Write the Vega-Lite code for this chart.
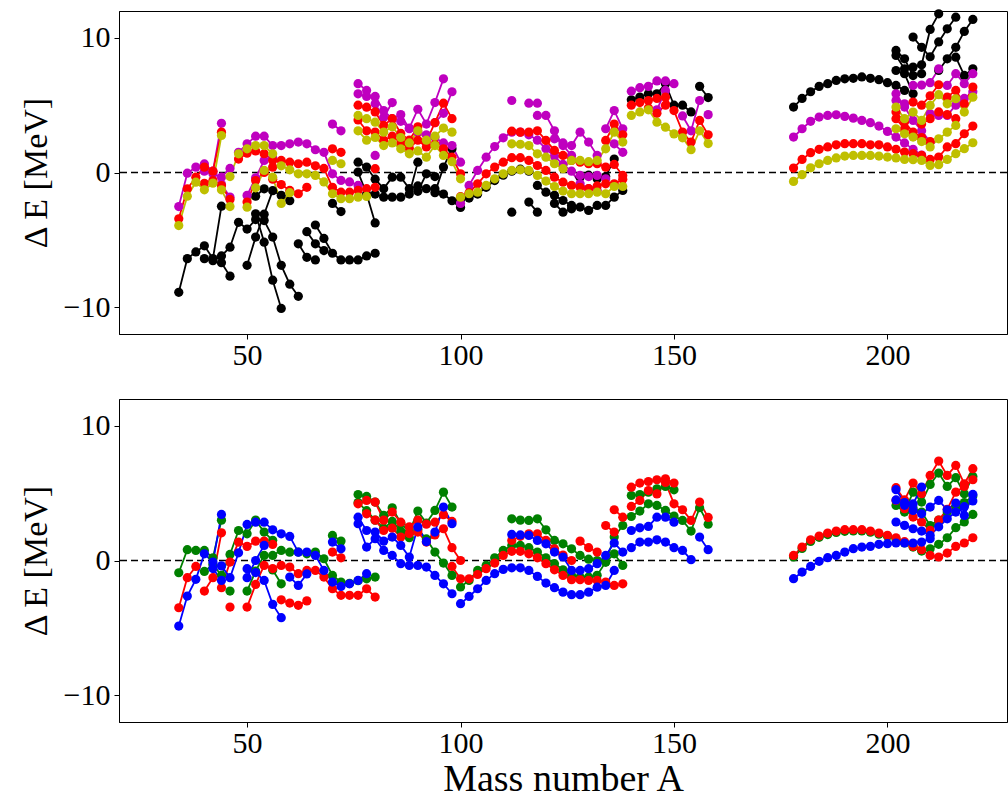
{
"$schema": "https://vega.github.io/schema/vega-lite/v6.json",
"background": "white",
"padding": {"left": 18, "top": 8, "right": 2, "bottom": 0},
"spacing": 65,
"bounds": "flush",
"config": {
  "view": {"stroke": "black", "strokeWidth": 1},
  "font": "Liberation Serif",
  "axis": {"grid": false, "domainColor": "black", "tickColor": "black", "labelColor": "black", "titleColor": "black", "labelFont": "Liberation Serif", "titleFont": "Liberation Serif", "labelFontSize": 30, "titleFontSize": 34, "titleFontWeight": "normal", "tickSize": 5, "labelPadding": 4, "titlePadding": 10},
  "axisX": {"labelPadding": 1}
},
"datasets": {
"t": [
{"c":"k","g":"k1","A":34,"E":-8.9},{"c":"k","g":"k1","A":36,"E":-6.4},{"c":"k","g":"k1","A":38,"E":-5.9},{"c":"k","g":"k1","A":40,"E":-5.45},{"c":"k","g":"k1","A":42,"E":-6.4},{"c":"k","g":"k1","A":44,"E":-2.5},
{"c":"k","g":"k2","A":40,"E":-6.4},{"c":"k","g":"k2","A":42,"E":-6.55},{"c":"k","g":"k2","A":44,"E":-6.2},{"c":"k","g":"k2","A":46,"E":-5.55},{"c":"k","g":"k2","A":48,"E":-3.7},{"c":"k","g":"k2","A":50,"E":-4.2},{"c":"k","g":"k2","A":52,"E":-3.5},
{"c":"k","g":"k3","A":44,"E":-6.7},{"c":"k","g":"k3","A":46,"E":-7.7},
{"c":"k","g":"k4","A":50,"E":-6.9},{"c":"k","g":"k4","A":52,"E":-4.8},{"c":"k","g":"k4","A":54,"E":-3.1},{"c":"k","g":"k4","A":56,"E":-1.35},{"c":"k","g":"k4","A":58,"E":-1.7},{"c":"k","g":"k4","A":60,"E":-2.1},
{"c":"k","g":"k5","A":52,"E":-3.07},{"c":"k","g":"k5","A":54,"E":-5.18},{"c":"k","g":"k5","A":56,"E":-8.0},{"c":"k","g":"k5","A":58,"E":-10.1},
{"c":"k","g":"k6","A":54,"E":-3.57},{"c":"k","g":"k6","A":56,"E":-4.8},{"c":"k","g":"k6","A":58,"E":-6.9},{"c":"k","g":"k6","A":60,"E":-8.3},{"c":"k","g":"k6","A":62,"E":-9.2},
{"c":"k","g":"k7","A":52,"E":-1.76},{"c":"k","g":"k7","A":54,"E":-1.21},
{"c":"k","g":"k8","A":62,"E":-5.3},{"c":"k","g":"k8","A":64,"E":-6.3},{"c":"k","g":"k8","A":66,"E":-6.5},
{"c":"k","g":"k9","A":64,"E":-4.4},{"c":"k","g":"k9","A":66,"E":-5.3},{"c":"k","g":"k9","A":68,"E":-5.8},
{"c":"k","g":"k10","A":66,"E":-3.9},{"c":"k","g":"k10","A":68,"E":-4.9},{"c":"k","g":"k10","A":70,"E":-6.0},{"c":"k","g":"k10","A":72,"E":-6.5},{"c":"k","g":"k10","A":74,"E":-6.5},{"c":"k","g":"k10","A":76,"E":-6.5},{"c":"k","g":"k10","A":78,"E":-6.2},{"c":"k","g":"k10","A":80,"E":-6.0},
{"c":"k","g":"k11","A":70,"E":-2.3},{"c":"k","g":"k11","A":72,"E":-2.9},
{"c":"k","g":"k12","A":76,"E":0.77},{"c":"k","g":"k12","A":78,"E":0.4},{"c":"k","g":"k12","A":80,"E":-0.5},{"c":"k","g":"k12","A":82,"E":-1.2},{"c":"k","g":"k12","A":84,"E":-0.35},{"c":"k","g":"k12","A":86,"E":-0.35},{"c":"k","g":"k12","A":88,"E":-1.2},{"c":"k","g":"k12","A":90,"E":-1.0},{"c":"k","g":"k12","A":92,"E":-1.2},{"c":"k","g":"k12","A":94,"E":-1.2},{"c":"k","g":"k12","A":96,"E":-1.6},{"c":"k","g":"k12","A":98,"E":-2.1},{"c":"k","g":"k12","A":100,"E":-2.6},
{"c":"k","g":"k13","A":76,"E":0.03},{"c":"k","g":"k13","A":78,"E":-1.6},{"c":"k","g":"k13","A":80,"E":-3.75},
{"c":"k","g":"k14","A":80,"E":-1.6},{"c":"k","g":"k14","A":82,"E":-1.83},{"c":"k","g":"k14","A":84,"E":-1.83},{"c":"k","g":"k14","A":86,"E":-1.83},{"c":"k","g":"k14","A":88,"E":-1.6},{"c":"k","g":"k14","A":90,"E":0.77},
{"c":"k","g":"k15","A":90,"E":-1.4},{"c":"k","g":"k15","A":92,"E":-0.1},{"c":"k","g":"k15","A":94,"E":-0.3},
{"c":"k","g":"k16","A":94,"E":-1.5},{"c":"k","g":"k16","A":96,"E":0.4},{"c":"k","g":"k16","A":98,"E":1.76},
{"c":"k","g":"k17","A":100,"E":-2.0},{"c":"k","g":"k17","A":102,"E":-1.9},{"c":"k","g":"k17","A":104,"E":-1.6},{"c":"k","g":"k17","A":106,"E":-1.1},{"c":"k","g":"k17","A":108,"E":-0.6},{"c":"k","g":"k17","A":110,"E":-0.2},{"c":"k","g":"k17","A":112,"E":0.1},{"c":"k","g":"k17","A":114,"E":0.25},{"c":"k","g":"k17","A":116,"E":0.1},
{"c":"k","g":"k18","A":112,"E":-2.95},
{"c":"k","g":"k19","A":116,"E":-2.2},{"c":"k","g":"k19","A":118,"E":-2.95},
{"c":"k","g":"k20","A":118,"E":-0.96},{"c":"k","g":"k20","A":120,"E":-1.46},{"c":"k","g":"k20","A":122,"E":-1.7},{"c":"k","g":"k20","A":124,"E":-2.08},{"c":"k","g":"k20","A":126,"E":-2.45},{"c":"k","g":"k20","A":128,"E":-2.57},{"c":"k","g":"k20","A":130,"E":-2.82},{"c":"k","g":"k20","A":132,"E":-2.45},{"c":"k","g":"k20","A":134,"E":-2.45},{"c":"k","g":"k20","A":136,"E":-1.83},{"c":"k","g":"k20","A":138,"E":-1.33},
{"c":"k","g":"k21","A":122,"E":-2.3},{"c":"k","g":"k21","A":124,"E":-2.95},{"c":"k","g":"k21","A":126,"E":-2.7},
{"c":"k","g":"k22","A":128,"E":-0.35},{"c":"k","g":"k22","A":130,"E":-0.2},{"c":"k","g":"k22","A":132,"E":-0.47},{"c":"k","g":"k22","A":134,"E":-0.3},{"c":"k","g":"k22","A":136,"E":1.0},
{"c":"k","g":"k23","A":140,"E":5.4},{"c":"k","g":"k23","A":142,"E":5.6},{"c":"k","g":"k23","A":144,"E":5.85},{"c":"k","g":"k23","A":146,"E":5.85},{"c":"k","g":"k23","A":148,"E":6.6},{"c":"k","g":"k23","A":150,"E":5.0},{"c":"k","g":"k23","A":152,"E":5.0},{"c":"k","g":"k23","A":154,"E":4.5},
{"c":"k","g":"k24","A":156,"E":6.4},{"c":"k","g":"k24","A":158,"E":5.57},
{"c":"k","g":"k25","A":178,"E":4.86},{"c":"k","g":"k25","A":180,"E":5.5},{"c":"k","g":"k25","A":182,"E":6.0},{"c":"k","g":"k25","A":184,"E":6.4},{"c":"k","g":"k25","A":186,"E":6.6},{"c":"k","g":"k25","A":188,"E":6.84},{"c":"k","g":"k25","A":190,"E":6.96},{"c":"k","g":"k25","A":192,"E":7.0},{"c":"k","g":"k25","A":194,"E":7.1},{"c":"k","g":"k25","A":196,"E":7.0},{"c":"k","g":"k25","A":198,"E":6.9},{"c":"k","g":"k25","A":200,"E":6.67},{"c":"k","g":"k25","A":202,"E":6.47},{"c":"k","g":"k25","A":204,"E":6.1},
{"c":"k","g":"k26","A":202,"E":9.07},{"c":"k","g":"k26","A":204,"E":8.45},{"c":"k","g":"k26","A":206,"E":7.2},{"c":"k","g":"k26","A":208,"E":7.34},
{"c":"k","g":"k27","A":202,"E":8.7},{"c":"k","g":"k27","A":204,"E":7.7},{"c":"k","g":"k27","A":206,"E":7.83},{"c":"k","g":"k27","A":208,"E":8.0},{"c":"k","g":"k27","A":210,"E":10.63},{"c":"k","g":"k27","A":212,"E":11.79},
{"c":"k","g":"k28","A":206,"E":10.06},{"c":"k","g":"k28","A":208,"E":9.3},{"c":"k","g":"k28","A":210,"E":8.6},{"c":"k","g":"k28","A":212,"E":9.7},{"c":"k","g":"k28","A":214,"E":10.68},{"c":"k","g":"k28","A":216,"E":11.54},
{"c":"k","g":"k29","A":212,"E":7.58},{"c":"k","g":"k29","A":214,"E":8.45},{"c":"k","g":"k29","A":216,"E":9.3},{"c":"k","g":"k29","A":218,"E":10.48},{"c":"k","g":"k29","A":220,"E":11.37},
{"c":"k","g":"k30","A":216,"E":8.57},{"c":"k","g":"k30","A":218,"E":7.21},{"c":"k","g":"k30","A":220,"E":7.7},
{"c":"k","g":"k31","A":202,"E":7.58},{"c":"k","g":"k31","A":204,"E":7.34},{"c":"k","g":"k31","A":206,"E":5.85},
{"c":"m","g":"m1","A":34,"E":-2.53},{"c":"m","g":"m1","A":36,"E":-0.05},{"c":"m","g":"m1","A":38,"E":0.4},{"c":"m","g":"m1","A":40,"E":0.64},{"c":"m","g":"m1","A":42,"E":0.1},{"c":"m","g":"m1","A":44,"E":3.66},
{"c":"m","g":"m2","A":40,"E":0.1},{"c":"m","g":"m2","A":42,"E":-0.1},{"c":"m","g":"m2","A":44,"E":-0.35},{"c":"m","g":"m2","A":46,"E":0.3},
{"c":"m","g":"m3","A":44,"E":-0.9},{"c":"m","g":"m3","A":46,"E":-1.83},
{"c":"m","g":"m4","A":48,"E":1.5},{"c":"m","g":"m4","A":50,"E":2.13},{"c":"m","g":"m4","A":52,"E":2.7},{"c":"m","g":"m4","A":54,"E":2.7},{"c":"m","g":"m4","A":56,"E":2.0},
{"c":"m","g":"m5","A":58,"E":2.0},{"c":"m","g":"m5","A":60,"E":2.13},{"c":"m","g":"m5","A":62,"E":2.26},{"c":"m","g":"m5","A":64,"E":2.13},{"c":"m","g":"m5","A":66,"E":1.69},{"c":"m","g":"m5","A":68,"E":1.5},{"c":"m","g":"m5","A":70,"E":-0.1},{"c":"m","g":"m5","A":72,"E":-0.59},{"c":"m","g":"m5","A":74,"E":-0.7},{"c":"m","g":"m5","A":76,"E":-0.96},
{"c":"m","g":"m6","A":50,"E":-1.7},{"c":"m","g":"m6","A":52,"E":-0.4},{"c":"m","g":"m6","A":54,"E":0.9},{"c":"m","g":"m6","A":56,"E":1.1},
{"c":"m","g":"m7","A":70,"E":3.6},{"c":"m","g":"m7","A":72,"E":3.1},
{"c":"m","g":"m8","A":76,"E":6.6},{"c":"m","g":"m8","A":78,"E":6.1},{"c":"m","g":"m8","A":80,"E":5.1},{"c":"m","g":"m8","A":82,"E":4.1},{"c":"m","g":"m8","A":84,"E":5.2},
{"c":"m","g":"m9","A":76,"E":5.85},{"c":"m","g":"m9","A":78,"E":5.65},{"c":"m","g":"m9","A":80,"E":5.65},{"c":"m","g":"m9","A":82,"E":4.6},{"c":"m","g":"m9","A":84,"E":4.0},{"c":"m","g":"m9","A":86,"E":4.3},{"c":"m","g":"m9","A":88,"E":3.25},
{"c":"m","g":"m10","A":86,"E":3.8},{"c":"m","g":"m10","A":88,"E":3.3},{"c":"m","g":"m10","A":90,"E":4.7},{"c":"m","g":"m10","A":92,"E":3.6},{"c":"m","g":"m10","A":94,"E":5.2},{"c":"m","g":"m10","A":96,"E":6.96},
{"c":"m","g":"m11","A":94,"E":3.7},{"c":"m","g":"m11","A":96,"E":4.4},{"c":"m","g":"m11","A":98,"E":6.0},
{"c":"m","g":"m12","A":90,"E":3.0},{"c":"m","g":"m12","A":92,"E":2.8},{"c":"m","g":"m12","A":94,"E":2.6},{"c":"m","g":"m12","A":96,"E":2.2},{"c":"m","g":"m12","A":98,"E":2.0},{"c":"m","g":"m12","A":100,"E":0.77},
{"c":"m","g":"m13","A":80,"E":1.27},
{"c":"m","g":"m14","A":100,"E":-2.3},{"c":"m","g":"m14","A":102,"E":-0.96},{"c":"m","g":"m14","A":104,"E":0.15},{"c":"m","g":"m14","A":106,"E":1.14},{"c":"m","g":"m14","A":108,"E":1.93},{"c":"m","g":"m14","A":110,"E":2.58},{"c":"m","g":"m14","A":112,"E":3.0},{"c":"m","g":"m14","A":114,"E":3.0},{"c":"m","g":"m14","A":116,"E":2.8},{"c":"m","g":"m14","A":118,"E":2.4},{"c":"m","g":"m14","A":120,"E":1.76},{"c":"m","g":"m14","A":122,"E":1.2},{"c":"m","g":"m14","A":124,"E":0.6},{"c":"m","g":"m14","A":126,"E":0.1},{"c":"m","g":"m14","A":128,"E":-0.84},{"c":"m","g":"m14","A":130,"E":-1.2},{"c":"m","g":"m14","A":132,"E":-1.33},
{"c":"m","g":"m15","A":128,"E":-0.22},{"c":"m","g":"m15","A":130,"E":-0.3},{"c":"m","g":"m15","A":132,"E":-0.22},{"c":"m","g":"m15","A":134,"E":-0.47},
{"c":"m","g":"m16","A":112,"E":5.35},
{"c":"m","g":"m17","A":116,"E":5.15},{"c":"m","g":"m17","A":118,"E":5.15},
{"c":"m","g":"m18","A":118,"E":4.24},{"c":"m","g":"m18","A":120,"E":4.24},{"c":"m","g":"m18","A":122,"E":3.1},{"c":"m","g":"m18","A":124,"E":2.0},{"c":"m","g":"m18","A":126,"E":1.27},
{"c":"m","g":"m19","A":122,"E":2.5},{"c":"m","g":"m19","A":124,"E":2.2},{"c":"m","g":"m19","A":126,"E":2.0},{"c":"m","g":"m19","A":128,"E":3.0},{"c":"m","g":"m19","A":130,"E":2.26},{"c":"m","g":"m19","A":132,"E":1.27},
{"c":"m","g":"m20","A":134,"E":3.25},{"c":"m","g":"m20","A":136,"E":4.6},{"c":"m","g":"m20","A":138,"E":3.25},
{"c":"m","g":"m21","A":136,"E":2.13},{"c":"m","g":"m21","A":138,"E":1.5},
{"c":"m","g":"m22","A":140,"E":6.04},{"c":"m","g":"m22","A":142,"E":6.3},{"c":"m","g":"m22","A":144,"E":6.4},{"c":"m","g":"m22","A":146,"E":6.8},{"c":"m","g":"m22","A":148,"E":6.8},{"c":"m","g":"m22","A":150,"E":6.6},
{"c":"m","g":"m23","A":146,"E":4.66},{"c":"m","g":"m23","A":148,"E":6.1},
{"c":"m","g":"m24","A":152,"E":4.2},{"c":"m","g":"m24","A":154,"E":3.1},{"c":"m","g":"m24","A":156,"E":5.35},
{"c":"m","g":"m25","A":158,"E":4.3},
{"c":"m","g":"m26","A":178,"E":2.63},{"c":"m","g":"m26","A":180,"E":3.25},{"c":"m","g":"m26","A":182,"E":3.8},{"c":"m","g":"m26","A":184,"E":4.12},{"c":"m","g":"m26","A":186,"E":4.24},{"c":"m","g":"m26","A":188,"E":4.29},{"c":"m","g":"m26","A":190,"E":4.17},{"c":"m","g":"m26","A":192,"E":4.04},{"c":"m","g":"m26","A":194,"E":3.87},{"c":"m","g":"m26","A":196,"E":3.7},{"c":"m","g":"m26","A":198,"E":3.45},{"c":"m","g":"m26","A":200,"E":3.05},{"c":"m","g":"m26","A":202,"E":2.63},{"c":"m","g":"m26","A":204,"E":2.2},{"c":"m","g":"m26","A":206,"E":1.72},{"c":"m","g":"m26","A":208,"E":1.3},
{"c":"m","g":"m27","A":202,"E":5.85},{"c":"m","g":"m27","A":204,"E":4.86},{"c":"m","g":"m27","A":206,"E":3.87},{"c":"m","g":"m27","A":208,"E":3.1},{"c":"m","g":"m27","A":210,"E":2.26},
{"c":"m","g":"m28","A":206,"E":6.47},{"c":"m","g":"m28","A":208,"E":6.5},{"c":"m","g":"m28","A":210,"E":6.67},{"c":"m","g":"m28","A":212,"E":7.7},
{"c":"m","g":"m29","A":214,"E":6.47},{"c":"m","g":"m29","A":216,"E":7.34},{"c":"m","g":"m29","A":218,"E":6.6},{"c":"m","g":"m29","A":220,"E":7.34},
{"c":"m","g":"m30","A":210,"E":4.36},{"c":"m","g":"m30","A":212,"E":4.24},{"c":"m","g":"m30","A":214,"E":4.24},{"c":"m","g":"m30","A":216,"E":5.0},{"c":"m","g":"m30","A":218,"E":5.5},{"c":"m","g":"m30","A":220,"E":6.0},
{"c":"m","g":"m31","A":202,"E":5.35},{"c":"m","g":"m31","A":204,"E":5.1},
{"c":"r","g":"r1","A":34,"E":-3.44},{"c":"r","g":"r1","A":36,"E":-1.21},{"c":"r","g":"r1","A":38,"E":-0.35},{"c":"r","g":"r1","A":40,"E":0.4},{"c":"r","g":"r1","A":42,"E":0.1},{"c":"r","g":"r1","A":44,"E":3.0},
{"c":"r","g":"r2","A":40,"E":-0.8},{"c":"r","g":"r2","A":42,"E":-0.6},{"c":"r","g":"r2","A":44,"E":-0.97},{"c":"r","g":"r2","A":46,"E":-2.0},
{"c":"r","g":"r3","A":48,"E":1.0},{"c":"r","g":"r3","A":50,"E":1.43},{"c":"r","g":"r3","A":52,"E":1.6},{"c":"r","g":"r3","A":54,"E":1.4},{"c":"r","g":"r3","A":56,"E":0.9},{"c":"r","g":"r3","A":58,"E":0.9},{"c":"r","g":"r3","A":60,"E":0.77},{"c":"r","g":"r3","A":62,"E":0.65},{"c":"r","g":"r3","A":64,"E":0.77},{"c":"r","g":"r3","A":66,"E":0.5},{"c":"r","g":"r3","A":68,"E":0.3},{"c":"r","g":"r3","A":70,"E":-1.1},{"c":"r","g":"r3","A":72,"E":-1.46},{"c":"r","g":"r3","A":74,"E":-1.46},{"c":"r","g":"r3","A":76,"E":-1.33},{"c":"r","g":"r3","A":78,"E":-1.2},{"c":"r","g":"r3","A":80,"E":-1.1},
{"c":"r","g":"r4","A":50,"E":-2.2},{"c":"r","g":"r4","A":52,"E":-0.6},{"c":"r","g":"r4","A":54,"E":0.0},{"c":"r","g":"r4","A":56,"E":0.4},
{"c":"r","g":"r5","A":56,"E":-0.5},{"c":"r","g":"r5","A":58,"E":-0.9},{"c":"r","g":"r5","A":60,"E":-1.33},{"c":"r","g":"r5","A":62,"E":-1.58},{"c":"r","g":"r5","A":64,"E":-1.1},
{"c":"r","g":"r6","A":70,"E":1.76},{"c":"r","g":"r6","A":72,"E":1.5},
{"c":"r","g":"r7","A":76,"E":5.0},{"c":"r","g":"r7","A":78,"E":4.85},{"c":"r","g":"r7","A":80,"E":4.5},{"c":"r","g":"r7","A":82,"E":3.5},{"c":"r","g":"r7","A":84,"E":4.0},{"c":"r","g":"r7","A":86,"E":2.9},{"c":"r","g":"r7","A":88,"E":2.4},{"c":"r","g":"r7","A":90,"E":3.4},{"c":"r","g":"r7","A":92,"E":2.3},{"c":"r","g":"r7","A":94,"E":3.7},{"c":"r","g":"r7","A":96,"E":5.15},{"c":"r","g":"r7","A":98,"E":4.0},
{"c":"r","g":"r8","A":76,"E":3.9},{"c":"r","g":"r8","A":78,"E":3.1},{"c":"r","g":"r8","A":80,"E":3.0},{"c":"r","g":"r8","A":82,"E":2.4},{"c":"r","g":"r8","A":84,"E":2.7},{"c":"r","g":"r8","A":86,"E":2.2},{"c":"r","g":"r8","A":88,"E":1.8},{"c":"r","g":"r8","A":90,"E":2.4},{"c":"r","g":"r8","A":92,"E":1.9},{"c":"r","g":"r8","A":94,"E":2.1},{"c":"r","g":"r8","A":96,"E":1.76},{"c":"r","g":"r8","A":98,"E":1.14},{"c":"r","g":"r8","A":100,"E":-0.1},
{"c":"r","g":"r9","A":80,"E":0.28},
{"c":"r","g":"r10","A":100,"E":-1.8},{"c":"r","g":"r10","A":102,"E":-1.5},{"c":"r","g":"r10","A":104,"E":-0.84},{"c":"r","g":"r10","A":106,"E":-0.1},{"c":"r","g":"r10","A":108,"E":0.4},{"c":"r","g":"r10","A":110,"E":0.77},{"c":"r","g":"r10","A":112,"E":1.1},{"c":"r","g":"r10","A":114,"E":1.1},{"c":"r","g":"r10","A":116,"E":0.9},{"c":"r","g":"r10","A":118,"E":0.52},{"c":"r","g":"r10","A":120,"E":0.15},{"c":"r","g":"r10","A":122,"E":-0.35},{"c":"r","g":"r10","A":124,"E":-0.72},{"c":"r","g":"r10","A":126,"E":-0.96},{"c":"r","g":"r10","A":128,"E":-1.1},{"c":"r","g":"r10","A":130,"E":-1.2},{"c":"r","g":"r10","A":132,"E":-1.0},{"c":"r","g":"r10","A":134,"E":-0.84},{"c":"r","g":"r10","A":136,"E":-0.84},{"c":"r","g":"r10","A":138,"E":-0.5},
{"c":"r","g":"r11","A":112,"E":3.07},{"c":"r","g":"r11","A":114,"E":3.0},{"c":"r","g":"r11","A":116,"E":3.0},{"c":"r","g":"r11","A":118,"E":3.1},{"c":"r","g":"r11","A":120,"E":2.38},{"c":"r","g":"r11","A":122,"E":1.64},{"c":"r","g":"r11","A":124,"E":1.27},{"c":"r","g":"r11","A":126,"E":0.9},{"c":"r","g":"r11","A":128,"E":0.77},{"c":"r","g":"r11","A":130,"E":0.65},{"c":"r","g":"r11","A":132,"E":0.65},{"c":"r","g":"r11","A":134,"E":0.4},{"c":"r","g":"r11","A":136,"E":0.6},{"c":"r","g":"r11","A":138,"E":-0.22},
{"c":"r","g":"r12","A":134,"E":2.38},{"c":"r","g":"r12","A":136,"E":3.6},{"c":"r","g":"r12","A":138,"E":2.8},
{"c":"r","g":"r13","A":140,"E":5.0},{"c":"r","g":"r13","A":142,"E":5.2},{"c":"r","g":"r13","A":144,"E":5.35},{"c":"r","g":"r13","A":146,"E":5.5},{"c":"r","g":"r13","A":148,"E":5.6},{"c":"r","g":"r13","A":150,"E":4.6},{"c":"r","g":"r13","A":152,"E":3.0},{"c":"r","g":"r13","A":154,"E":2.26},{"c":"r","g":"r13","A":156,"E":3.87},{"c":"r","g":"r13","A":158,"E":2.8},
{"c":"r","g":"r14","A":144,"E":4.8},{"c":"r","g":"r14","A":146,"E":4.4},{"c":"r","g":"r14","A":148,"E":5.0},
{"c":"r","g":"r15","A":178,"E":0.33},{"c":"r","g":"r15","A":180,"E":0.97},{"c":"r","g":"r15","A":182,"E":1.47},{"c":"r","g":"r15","A":184,"E":1.72},{"c":"r","g":"r15","A":186,"E":1.9},{"c":"r","g":"r15","A":188,"E":2.06},{"c":"r","g":"r15","A":190,"E":2.14},{"c":"r","g":"r15","A":192,"E":2.14},{"c":"r","g":"r15","A":194,"E":2.14},{"c":"r","g":"r15","A":196,"E":2.06},{"c":"r","g":"r15","A":198,"E":2.06},{"c":"r","g":"r15","A":200,"E":1.9},{"c":"r","g":"r15","A":202,"E":1.72},{"c":"r","g":"r15","A":204,"E":1.52},{"c":"r","g":"r15","A":206,"E":1.4},{"c":"r","g":"r15","A":208,"E":1.27},{"c":"r","g":"r15","A":210,"E":0.97},{"c":"r","g":"r15","A":212,"E":1.15},{"c":"r","g":"r15","A":214,"E":1.9},{"c":"r","g":"r15","A":216,"E":2.14},{"c":"r","g":"r15","A":218,"E":2.88},{"c":"r","g":"r15","A":220,"E":3.45},
{"c":"r","g":"r16","A":202,"E":4.49},{"c":"r","g":"r16","A":204,"E":3.75},{"c":"r","g":"r16","A":206,"E":3.0},{"c":"r","g":"r16","A":208,"E":2.6},{"c":"r","g":"r16","A":210,"E":2.3},
{"c":"r","g":"r17","A":202,"E":4.0},{"c":"r","g":"r17","A":204,"E":3.25},
{"c":"r","g":"r18","A":206,"E":5.23},{"c":"r","g":"r18","A":208,"E":5.0},{"c":"r","g":"r18","A":210,"E":5.7},{"c":"r","g":"r18","A":212,"E":6.52},
{"c":"r","g":"r19","A":214,"E":5.6},{"c":"r","g":"r19","A":216,"E":6.1},{"c":"r","g":"r19","A":218,"E":5.1},{"c":"r","g":"r19","A":220,"E":6.35},
{"c":"r","g":"r20","A":208,"E":3.6},{"c":"r","g":"r20","A":210,"E":4.0},{"c":"r","g":"r20","A":212,"E":4.5},{"c":"r","g":"r20","A":214,"E":4.3},{"c":"r","g":"r20","A":216,"E":4.0},
{"c":"y","g":"y1","A":34,"E":-3.94},{"c":"y","g":"y1","A":36,"E":-1.76},{"c":"y","g":"y1","A":38,"E":-0.72},{"c":"y","g":"y1","A":40,"E":-1.29},{"c":"y","g":"y1","A":42,"E":-0.79},{"c":"y","g":"y1","A":44,"E":2.75},
{"c":"y","g":"y2","A":44,"E":-1.29},{"c":"y","g":"y2","A":46,"E":-2.53},
{"c":"y","g":"y3","A":46,"E":-0.3},{"c":"y","g":"y3","A":48,"E":1.39},{"c":"y","g":"y3","A":50,"E":1.76},{"c":"y","g":"y3","A":52,"E":2.0},{"c":"y","g":"y3","A":54,"E":2.0},{"c":"y","g":"y3","A":56,"E":1.39},{"c":"y","g":"y3","A":58,"E":0.5},{"c":"y","g":"y3","A":60,"E":0.2},{"c":"y","g":"y3","A":62,"E":-0.1},{"c":"y","g":"y3","A":64,"E":-0.1},{"c":"y","g":"y3","A":66,"E":-0.22},{"c":"y","g":"y3","A":68,"E":-0.7},{"c":"y","g":"y3","A":70,"E":-1.58},{"c":"y","g":"y3","A":72,"E":-1.95},{"c":"y","g":"y3","A":74,"E":-1.95},{"c":"y","g":"y3","A":76,"E":-1.83},{"c":"y","g":"y3","A":78,"E":-1.78},
{"c":"y","g":"y4","A":50,"E":-2.58},{"c":"y","g":"y4","A":52,"E":-1.14},{"c":"y","g":"y4","A":54,"E":0.15},{"c":"y","g":"y4","A":56,"E":-0.35},{"c":"y","g":"y4","A":58,"E":-2.3},{"c":"y","g":"y4","A":60,"E":-1.5},
{"c":"y","g":"y5","A":70,"E":0.9},{"c":"y","g":"y5","A":72,"E":0.65},
{"c":"y","g":"y6","A":76,"E":4.24},{"c":"y","g":"y6","A":78,"E":4.0},{"c":"y","g":"y6","A":80,"E":3.74},{"c":"y","g":"y6","A":82,"E":3.0},{"c":"y","g":"y6","A":84,"E":3.4},{"c":"y","g":"y6","A":86,"E":2.6},{"c":"y","g":"y6","A":88,"E":2.2},{"c":"y","g":"y6","A":90,"E":3.1},{"c":"y","g":"y6","A":92,"E":2.4},{"c":"y","g":"y6","A":94,"E":2.7},{"c":"y","g":"y6","A":96,"E":3.3},{"c":"y","g":"y6","A":98,"E":3.0},
{"c":"y","g":"y7","A":76,"E":3.1},{"c":"y","g":"y7","A":78,"E":2.4},{"c":"y","g":"y7","A":80,"E":2.6},{"c":"y","g":"y7","A":82,"E":2.0},{"c":"y","g":"y7","A":84,"E":2.2},{"c":"y","g":"y7","A":86,"E":1.76},{"c":"y","g":"y7","A":88,"E":1.39},{"c":"y","g":"y7","A":90,"E":1.6},{"c":"y","g":"y7","A":92,"E":1.14},{"c":"y","g":"y7","A":94,"E":2.0},{"c":"y","g":"y7","A":96,"E":1.27},{"c":"y","g":"y7","A":98,"E":0.8},{"c":"y","g":"y7","A":100,"E":-0.47},
{"c":"y","g":"y8","A":100,"E":-1.83},{"c":"y","g":"y8","A":102,"E":-1.58},{"c":"y","g":"y8","A":104,"E":-1.46},{"c":"y","g":"y8","A":106,"E":-0.96},{"c":"y","g":"y8","A":108,"E":-0.47},{"c":"y","g":"y8","A":110,"E":-0.1},{"c":"y","g":"y8","A":112,"E":0.15},{"c":"y","g":"y8","A":114,"E":0.2},{"c":"y","g":"y8","A":116,"E":0.15},{"c":"y","g":"y8","A":118,"E":-0.22},{"c":"y","g":"y8","A":120,"E":-0.64},{"c":"y","g":"y8","A":122,"E":-1.04},{"c":"y","g":"y8","A":124,"E":-1.38},{"c":"y","g":"y8","A":126,"E":-1.58},{"c":"y","g":"y8","A":128,"E":-1.58},{"c":"y","g":"y8","A":130,"E":-1.58},{"c":"y","g":"y8","A":132,"E":-1.46},{"c":"y","g":"y8","A":134,"E":-1.58},{"c":"y","g":"y8","A":136,"E":-1.04},{"c":"y","g":"y8","A":138,"E":-1.04},
{"c":"y","g":"y9","A":112,"E":2.13},{"c":"y","g":"y9","A":114,"E":2.1},{"c":"y","g":"y9","A":116,"E":2.0},{"c":"y","g":"y9","A":118,"E":1.39},{"c":"y","g":"y9","A":120,"E":1.14},{"c":"y","g":"y9","A":122,"E":0.65},{"c":"y","g":"y9","A":124,"E":0.28},{"c":"y","g":"y9","A":126,"E":0.9},{"c":"y","g":"y9","A":128,"E":0.9},{"c":"y","g":"y9","A":130,"E":0.8},{"c":"y","g":"y9","A":132,"E":0.9},{"c":"y","g":"y9","A":134,"E":1.76},{"c":"y","g":"y9","A":136,"E":3.0},{"c":"y","g":"y9","A":138,"E":2.26},
{"c":"y","g":"y10","A":140,"E":4.24},{"c":"y","g":"y10","A":142,"E":4.5},{"c":"y","g":"y10","A":144,"E":4.66},{"c":"y","g":"y10","A":146,"E":3.74},{"c":"y","g":"y10","A":148,"E":3.37},{"c":"y","g":"y10","A":150,"E":2.87},{"c":"y","g":"y10","A":152,"E":2.58},{"c":"y","g":"y10","A":154,"E":1.69},{"c":"y","g":"y10","A":156,"E":3.1},{"c":"y","g":"y10","A":158,"E":2.15},
{"c":"y","g":"y11","A":178,"E":-0.66},{"c":"y","g":"y11","A":180,"E":-0.16},{"c":"y","g":"y11","A":182,"E":0.35},{"c":"y","g":"y11","A":184,"E":0.65},{"c":"y","g":"y11","A":186,"E":0.9},{"c":"y","g":"y11","A":188,"E":1.08},{"c":"y","g":"y11","A":190,"E":1.22},{"c":"y","g":"y11","A":192,"E":1.27},{"c":"y","g":"y11","A":194,"E":1.27},{"c":"y","g":"y11","A":196,"E":1.27},{"c":"y","g":"y11","A":198,"E":1.22},{"c":"y","g":"y11","A":200,"E":1.15},{"c":"y","g":"y11","A":202,"E":1.08},{"c":"y","g":"y11","A":204,"E":0.97},{"c":"y","g":"y11","A":206,"E":0.95},{"c":"y","g":"y11","A":208,"E":0.9},{"c":"y","g":"y11","A":210,"E":0.53},{"c":"y","g":"y11","A":212,"E":0.58},{"c":"y","g":"y11","A":214,"E":0.97},{"c":"y","g":"y11","A":216,"E":1.4},{"c":"y","g":"y11","A":218,"E":1.77},{"c":"y","g":"y11","A":220,"E":2.21},
{"c":"y","g":"y12","A":202,"E":4.86},{"c":"y","g":"y12","A":204,"E":4.0},{"c":"y","g":"y12","A":206,"E":4.49},{"c":"y","g":"y12","A":208,"E":3.87},{"c":"y","g":"y12","A":210,"E":4.98},{"c":"y","g":"y12","A":212,"E":5.78},{"c":"y","g":"y12","A":214,"E":5.1},{"c":"y","g":"y12","A":216,"E":5.48},{"c":"y","g":"y12","A":218,"E":4.49},{"c":"y","g":"y12","A":220,"E":5.6},
{"c":"y","g":"y13","A":202,"E":3.25},{"c":"y","g":"y13","A":204,"E":2.88},{"c":"y","g":"y13","A":206,"E":2.63},{"c":"y","g":"y13","A":208,"E":2.3},{"c":"y","g":"y13","A":210,"E":1.9},{"c":"y","g":"y13","A":212,"E":2.5},{"c":"y","g":"y13","A":214,"E":3.0},{"c":"y","g":"y13","A":216,"E":3.5}
],
"b": [
{"c":"g","g":"g1","A":34,"E":-0.91},{"c":"g","g":"g1","A":36,"E":0.8},{"c":"g","g":"g1","A":38,"E":0.75},{"c":"g","g":"g1","A":40,"E":0.75},{"c":"g","g":"g1","A":42,"E":0.2},{"c":"g","g":"g1","A":44,"E":3.0},
{"c":"g","g":"g2","A":40,"E":-0.81},{"c":"g","g":"g2","A":42,"E":-0.3},{"c":"g","g":"g2","A":44,"E":-1.11},{"c":"g","g":"g2","A":46,"E":0.45},{"c":"g","g":"g2","A":48,"E":2.23},{"c":"g","g":"g2","A":50,"E":1.98},{"c":"g","g":"g2","A":52,"E":3.0},{"c":"g","g":"g2","A":54,"E":2.11},{"c":"g","g":"g2","A":56,"E":1.5},
{"c":"g","g":"g3","A":46,"E":-2.27},
{"c":"g","g":"g4","A":50,"E":-2.27},{"c":"g","g":"g4","A":52,"E":-0.79},{"c":"g","g":"g4","A":54,"E":0.38},{"c":"g","g":"g4","A":56,"E":0.38},{"c":"g","g":"g4","A":58,"E":0.75},{"c":"g","g":"g4","A":60,"E":0.62},{"c":"g","g":"g4","A":62,"E":0.63},{"c":"g","g":"g4","A":64,"E":0.5},{"c":"g","g":"g4","A":66,"E":0.63},{"c":"g","g":"g4","A":68,"E":0.13},{"c":"g","g":"g4","A":70,"E":-1.11},{"c":"g","g":"g4","A":72,"E":-1.6},{"c":"g","g":"g4","A":74,"E":-1.7},{"c":"g","g":"g4","A":76,"E":-1.5},{"c":"g","g":"g4","A":78,"E":-1.36},{"c":"g","g":"g4","A":80,"E":-1.23},
{"c":"g","g":"g5","A":56,"E":-0.7},{"c":"g","g":"g5","A":58,"E":-1.73},
{"c":"g","g":"g6","A":70,"E":1.86},{"c":"g","g":"g6","A":72,"E":1.44},
{"c":"g","g":"g7","A":76,"E":4.9},{"c":"g","g":"g7","A":78,"E":4.76},{"c":"g","g":"g7","A":80,"E":4.34},{"c":"g","g":"g7","A":82,"E":3.35},{"c":"g","g":"g7","A":84,"E":3.92},{"c":"g","g":"g7","A":86,"E":2.78},{"c":"g","g":"g7","A":88,"E":2.11},{"c":"g","g":"g7","A":90,"E":3.67},{"c":"g","g":"g7","A":92,"E":2.78},{"c":"g","g":"g7","A":94,"E":3.72},{"c":"g","g":"g7","A":96,"E":5.08},{"c":"g","g":"g7","A":98,"E":3.97},
{"c":"g","g":"g8","A":76,"E":4.3},{"c":"g","g":"g8","A":78,"E":3.7},{"c":"g","g":"g8","A":80,"E":3.0},{"c":"g","g":"g8","A":82,"E":2.4},{"c":"g","g":"g8","A":84,"E":2.9},{"c":"g","g":"g8","A":86,"E":2.2},{"c":"g","g":"g8","A":88,"E":1.7},{"c":"g","g":"g8","A":90,"E":2.3},{"c":"g","g":"g8","A":92,"E":1.6},{"c":"g","g":"g8","A":94,"E":0.63},{"c":"g","g":"g8","A":96,"E":-0.19},{"c":"g","g":"g8","A":98,"E":-1.11},
{"c":"g","g":"g9","A":100,"E":-1.97},{"c":"g","g":"g9","A":102,"E":-1.48},{"c":"g","g":"g9","A":104,"E":-0.74},{"c":"g","g":"g9","A":106,"E":-0.37},{"c":"g","g":"g9","A":108,"E":0.2},{"c":"g","g":"g9","A":110,"E":0.75},{"c":"g","g":"g9","A":112,"E":1.12},{"c":"g","g":"g9","A":114,"E":1.12},{"c":"g","g":"g9","A":116,"E":0.95},{"c":"g","g":"g9","A":118,"E":0.63},{"c":"g","g":"g9","A":120,"E":0.2},{"c":"g","g":"g9","A":122,"E":-0.24},{"c":"g","g":"g9","A":124,"E":-0.69},{"c":"g","g":"g9","A":126,"E":-1.11},{"c":"g","g":"g9","A":128,"E":-1.23},{"c":"g","g":"g9","A":130,"E":-1.23},{"c":"g","g":"g9","A":132,"E":-1.1},{"c":"g","g":"g9","A":134,"E":-0.12},{"c":"g","g":"g9","A":136,"E":0.5},{"c":"g","g":"g9","A":138,"E":-0.37},
{"c":"g","g":"g10","A":112,"E":3.1},{"c":"g","g":"g10","A":114,"E":3.0},{"c":"g","g":"g10","A":116,"E":2.98},{"c":"g","g":"g10","A":118,"E":3.1},{"c":"g","g":"g10","A":120,"E":2.28},{"c":"g","g":"g10","A":122,"E":1.49},{"c":"g","g":"g10","A":124,"E":1.24},{"c":"g","g":"g10","A":126,"E":0.87},{"c":"g","g":"g10","A":128,"E":0.38},{"c":"g","g":"g10","A":130,"E":0.1},{"c":"g","g":"g10","A":132,"E":0.0},{"c":"g","g":"g10","A":134,"E":-0.12},{"c":"g","g":"g10","A":136,"E":1.74},{"c":"g","g":"g10","A":138,"E":2.6},
{"c":"g","g":"g11","A":140,"E":4.83},{"c":"g","g":"g11","A":142,"E":4.9},{"c":"g","g":"g11","A":144,"E":5.08},{"c":"g","g":"g11","A":146,"E":5.33},{"c":"g","g":"g11","A":148,"E":5.5},{"c":"g","g":"g11","A":150,"E":5.25},
{"c":"g","g":"g12","A":140,"E":3.27},{"c":"g","g":"g12","A":142,"E":3.67},{"c":"g","g":"g12","A":144,"E":4.21},{"c":"g","g":"g12","A":146,"E":4.09},{"c":"g","g":"g12","A":148,"E":3.72},{"c":"g","g":"g12","A":150,"E":3.3},{"c":"g","g":"g12","A":152,"E":2.98},{"c":"g","g":"g12","A":154,"E":2.19},{"c":"g","g":"g12","A":156,"E":3.92},{"c":"g","g":"g12","A":158,"E":2.7},
{"c":"g","g":"g13","A":178,"E":0.26},{"c":"g","g":"g13","A":180,"E":0.9},{"c":"g","g":"g13","A":182,"E":1.42},{"c":"g","g":"g13","A":184,"E":1.72},{"c":"g","g":"g13","A":186,"E":1.93},{"c":"g","g":"g13","A":188,"E":2.08},{"c":"g","g":"g13","A":190,"E":2.17},{"c":"g","g":"g13","A":192,"E":2.2},{"c":"g","g":"g13","A":194,"E":2.2},{"c":"g","g":"g13","A":196,"E":2.1},{"c":"g","g":"g13","A":198,"E":1.95},{"c":"g","g":"g13","A":200,"E":1.8},{"c":"g","g":"g13","A":202,"E":1.6},{"c":"g","g":"g13","A":204,"E":1.3},{"c":"g","g":"g13","A":206,"E":1.0},{"c":"g","g":"g13","A":208,"E":0.7},
{"c":"g","g":"g14","A":210,"E":0.87},{"c":"g","g":"g14","A":212,"E":1.2},{"c":"g","g":"g14","A":214,"E":1.69},{"c":"g","g":"g14","A":216,"E":2.44},{"c":"g","g":"g14","A":218,"E":2.86},{"c":"g","g":"g14","A":220,"E":3.42},
{"c":"g","g":"g15","A":202,"E":4.09},{"c":"g","g":"g15","A":204,"E":3.6},{"c":"g","g":"g15","A":206,"E":5.08},{"c":"g","g":"g15","A":208,"E":4.34},{"c":"g","g":"g15","A":210,"E":5.65},{"c":"g","g":"g15","A":212,"E":6.5},{"c":"g","g":"g15","A":214,"E":5.5},{"c":"g","g":"g15","A":216,"E":6.15},{"c":"g","g":"g15","A":218,"E":4.96},{"c":"g","g":"g15","A":220,"E":6.25},
{"c":"g","g":"g16","A":206,"E":3.9},{"c":"g","g":"g16","A":208,"E":3.6},{"c":"g","g":"g16","A":210,"E":2.6},{"c":"g","g":"g16","A":212,"E":3.0},{"c":"g","g":"g16","A":214,"E":3.6},{"c":"g","g":"g16","A":216,"E":4.0},{"c":"g","g":"g16","A":218,"E":4.3},{"c":"g","g":"g16","A":220,"E":4.8},
{"c":"r","g":"s1","A":34,"E":-3.51},{"c":"r","g":"s1","A":36,"E":-1.28},{"c":"r","g":"s1","A":38,"E":-0.44},
{"c":"r","g":"s2","A":40,"E":-2.27},{"c":"r","g":"s2","A":42,"E":-1.28},{"c":"r","g":"s2","A":44,"E":2.06},
{"c":"r","g":"s3","A":44,"E":-2.02},{"c":"r","g":"s3","A":46,"E":-0.12},{"c":"r","g":"s3","A":48,"E":1.37},{"c":"r","g":"s3","A":50,"E":1.05},{"c":"r","g":"s3","A":52,"E":1.44},{"c":"r","g":"s3","A":54,"E":1.44},{"c":"r","g":"s3","A":56,"E":1.19},
{"c":"r","g":"s4","A":46,"E":-3.46},
{"c":"r","g":"s5","A":50,"E":-3.46},{"c":"r","g":"s5","A":52,"E":-1.78},{"c":"r","g":"s5","A":54,"E":-0.37},{"c":"r","g":"s5","A":56,"E":-0.6},{"c":"r","g":"s5","A":58,"E":-0.37},{"c":"r","g":"s5","A":60,"E":-0.49},{"c":"r","g":"s5","A":62,"E":-0.98},{"c":"r","g":"s5","A":64,"E":-0.74},{"c":"r","g":"s5","A":66,"E":-0.74},{"c":"r","g":"s5","A":68,"E":-1.23},{"c":"r","g":"s5","A":70,"E":-2.1},{"c":"r","g":"s5","A":72,"E":-2.59},{"c":"r","g":"s5","A":74,"E":-2.59},{"c":"r","g":"s5","A":76,"E":-2.59},{"c":"r","g":"s5","A":78,"E":-2.1},{"c":"r","g":"s5","A":80,"E":-2.72},
{"c":"r","g":"s6","A":58,"E":-2.92},{"c":"r","g":"s6","A":60,"E":-3.16},{"c":"r","g":"s6","A":62,"E":-3.33},{"c":"r","g":"s6","A":64,"E":-3.0},
{"c":"r","g":"s7","A":70,"E":0.63},{"c":"r","g":"s7","A":72,"E":0.2},
{"c":"r","g":"s8","A":76,"E":4.21},{"c":"r","g":"s8","A":78,"E":4.46},{"c":"r","g":"s8","A":80,"E":4.34},{"c":"r","g":"s8","A":82,"E":3.0},{"c":"r","g":"s8","A":84,"E":3.6},{"c":"r","g":"s8","A":86,"E":2.85},{"c":"r","g":"s8","A":88,"E":2.5},{"c":"r","g":"s8","A":90,"E":3.0},{"c":"r","g":"s8","A":92,"E":2.7},{"c":"r","g":"s8","A":94,"E":2.85},{"c":"r","g":"s8","A":96,"E":3.4},{"c":"r","g":"s8","A":98,"E":2.9},
{"c":"r","g":"s9","A":78,"E":3.47},{"c":"r","g":"s9","A":80,"E":3.0},{"c":"r","g":"s9","A":82,"E":2.23},{"c":"r","g":"s9","A":84,"E":2.4},{"c":"r","g":"s9","A":86,"E":1.74},{"c":"r","g":"s9","A":88,"E":2.0},{"c":"r","g":"s9","A":90,"E":2.11},{"c":"r","g":"s9","A":92,"E":1.37},{"c":"r","g":"s9","A":94,"E":1.9},{"c":"r","g":"s9","A":96,"E":2.36},{"c":"r","g":"s9","A":98,"E":0.95},{"c":"r","g":"s9","A":100,"E":0.0},
{"c":"r","g":"s10","A":98,"E":-0.44},{"c":"r","g":"s10","A":100,"E":-1.36},{"c":"r","g":"s10","A":102,"E":-1.36},{"c":"r","g":"s10","A":104,"E":-1.04},{"c":"r","g":"s10","A":106,"E":-0.61},{"c":"r","g":"s10","A":108,"E":-0.19},{"c":"r","g":"s10","A":110,"E":0.38},{"c":"r","g":"s10","A":112,"E":0.68},{"c":"r","g":"s10","A":114,"E":0.68},{"c":"r","g":"s10","A":116,"E":0.5},{"c":"r","g":"s10","A":118,"E":0.2},{"c":"r","g":"s10","A":120,"E":-0.24},{"c":"r","g":"s10","A":122,"E":-0.69},{"c":"r","g":"s10","A":124,"E":-1.11},{"c":"r","g":"s10","A":126,"E":-1.43},{"c":"r","g":"s10","A":128,"E":-1.43},{"c":"r","g":"s10","A":130,"E":-1.48},{"c":"r","g":"s10","A":132,"E":-1.48},{"c":"r","g":"s10","A":134,"E":-1.6},{"c":"r","g":"s10","A":136,"E":-1.85},{"c":"r","g":"s10","A":138,"E":-1.73},
{"c":"r","g":"s11","A":112,"E":1.49},{"c":"r","g":"s11","A":114,"E":1.8},{"c":"r","g":"s11","A":116,"E":1.98},{"c":"r","g":"s11","A":118,"E":1.98},{"c":"r","g":"s11","A":120,"E":1.5},{"c":"r","g":"s11","A":122,"E":0.87},{"c":"r","g":"s11","A":124,"E":0.4},{"c":"r","g":"s11","A":126,"E":0.0},
{"c":"r","g":"s12","A":128,"E":1.44},{"c":"r","g":"s12","A":130,"E":0.95},{"c":"r","g":"s12","A":132,"E":0.63},
{"c":"r","g":"s13","A":134,"E":2.6},{"c":"r","g":"s13","A":136,"E":2.11},
{"c":"r","g":"s14","A":136,"E":3.77},{"c":"r","g":"s14","A":138,"E":3.22},
{"c":"r","g":"s15","A":140,"E":5.45},{"c":"r","g":"s15","A":142,"E":5.75},{"c":"r","g":"s15","A":144,"E":5.87},{"c":"r","g":"s15","A":146,"E":6.0},{"c":"r","g":"s15","A":148,"E":6.07},{"c":"r","g":"s15","A":150,"E":5.75},
{"c":"r","g":"s16","A":140,"E":4.02},{"c":"r","g":"s16","A":142,"E":4.46},{"c":"r","g":"s16","A":144,"E":5.2},{"c":"r","g":"s16","A":146,"E":4.95},{"c":"r","g":"s16","A":148,"E":5.8},{"c":"r","g":"s16","A":150,"E":4.21},{"c":"r","g":"s16","A":152,"E":3.77},{"c":"r","g":"s16","A":154,"E":2.98},{"c":"r","g":"s16","A":156,"E":4.34},{"c":"r","g":"s16","A":158,"E":3.2},
{"c":"r","g":"s17","A":178,"E":0.38},{"c":"r","g":"s17","A":180,"E":1.0},{"c":"r","g":"s17","A":182,"E":1.54},{"c":"r","g":"s17","A":184,"E":1.82},{"c":"r","g":"s17","A":186,"E":2.04},{"c":"r","g":"s17","A":188,"E":2.19},{"c":"r","g":"s17","A":190,"E":2.29},{"c":"r","g":"s17","A":192,"E":2.29},{"c":"r","g":"s17","A":194,"E":2.29},{"c":"r","g":"s17","A":196,"E":2.19},{"c":"r","g":"s17","A":198,"E":2.04},{"c":"r","g":"s17","A":200,"E":1.87},{"c":"r","g":"s17","A":202,"E":1.69},{"c":"r","g":"s17","A":204,"E":1.4},{"c":"r","g":"s17","A":206,"E":1.05},{"c":"r","g":"s17","A":208,"E":0.8},{"c":"r","g":"s17","A":210,"E":0.38},{"c":"r","g":"s17","A":212,"E":0.26},{"c":"r","g":"s17","A":214,"E":0.55},{"c":"r","g":"s17","A":216,"E":1.05},{"c":"r","g":"s17","A":218,"E":1.3},{"c":"r","g":"s17","A":220,"E":1.69},
{"c":"r","g":"s18","A":202,"E":5.41},{"c":"r","g":"s18","A":204,"E":4.5},{"c":"r","g":"s18","A":206,"E":5.75},{"c":"r","g":"s18","A":208,"E":4.96},{"c":"r","g":"s18","A":210,"E":6.32},{"c":"r","g":"s18","A":212,"E":7.39},{"c":"r","g":"s18","A":214,"E":6.32},{"c":"r","g":"s18","A":216,"E":7.06},{"c":"r","g":"s18","A":218,"E":5.7},{"c":"r","g":"s18","A":220,"E":6.82},
{"c":"r","g":"s19","A":202,"E":4.46},{"c":"r","g":"s19","A":204,"E":3.85},{"c":"r","g":"s19","A":206,"E":3.23},{"c":"r","g":"s19","A":208,"E":2.86},{"c":"r","g":"s19","A":210,"E":2.24},{"c":"r","g":"s19","A":212,"E":3.0},{"c":"r","g":"s19","A":214,"E":3.8},{"c":"r","g":"s19","A":216,"E":5.08},{"c":"r","g":"s19","A":218,"E":5.5},{"c":"r","g":"s19","A":220,"E":6.0},
{"c":"b","g":"b1","A":34,"E":-4.87},{"c":"b","g":"b1","A":36,"E":-2.64},{"c":"b","g":"b1","A":38,"E":-1.4},{"c":"b","g":"b1","A":40,"E":0.5},{"c":"b","g":"b1","A":42,"E":-0.12},{"c":"b","g":"b1","A":44,"E":3.42},
{"c":"b","g":"b2","A":44,"E":-0.4},{"c":"b","g":"b2","A":46,"E":-1.28},{"c":"b","g":"b2","A":48,"E":0.57},{"c":"b","g":"b2","A":50,"E":2.68},{"c":"b","g":"b2","A":52,"E":2.85},{"c":"b","g":"b2","A":54,"E":2.85},{"c":"b","g":"b2","A":56,"E":2.28},{"c":"b","g":"b2","A":58,"E":1.98},{"c":"b","g":"b2","A":60,"E":1.79},{"c":"b","g":"b2","A":62,"E":0.62},{"c":"b","g":"b2","A":64,"E":0.63},{"c":"b","g":"b2","A":66,"E":0.38},{"c":"b","g":"b2","A":68,"E":-0.74},{"c":"b","g":"b2","A":70,"E":-1.6},{"c":"b","g":"b2","A":72,"E":-1.93},{"c":"b","g":"b2","A":74,"E":-1.73},{"c":"b","g":"b2","A":76,"E":-1.48},{"c":"b","g":"b2","A":78,"E":-0.98},
{"c":"b","g":"b3","A":42,"E":-0.6},{"c":"b","g":"b3","A":44,"E":-1.48},
{"c":"b","g":"b4","A":50,"E":-1.28},{"c":"b","g":"b4","A":52,"E":0.0},{"c":"b","g":"b4","A":54,"E":1.12},
{"c":"b","g":"b5","A":50,"E":-0.61},{"c":"b","g":"b5","A":52,"E":-0.9},{"c":"b","g":"b5","A":54,"E":-1.48},{"c":"b","g":"b5","A":56,"E":-3.26},{"c":"b","g":"b5","A":58,"E":-4.25},
{"c":"b","g":"b6","A":60,"E":-1.23},{"c":"b","g":"b6","A":62,"E":-1.85},{"c":"b","g":"b6","A":64,"E":-1.0},
{"c":"b","g":"b7","A":70,"E":1.37},{"c":"b","g":"b7","A":72,"E":0.87},
{"c":"b","g":"b8","A":76,"E":3.22},{"c":"b","g":"b8","A":78,"E":2.23},{"c":"b","g":"b8","A":80,"E":2.11},{"c":"b","g":"b8","A":82,"E":1.44},{"c":"b","g":"b8","A":84,"E":1.74},{"c":"b","g":"b8","A":86,"E":1.12},{"c":"b","g":"b8","A":88,"E":0.26},{"c":"b","g":"b8","A":90,"E":2.48},{"c":"b","g":"b8","A":92,"E":1.4},{"c":"b","g":"b8","A":94,"E":2.11},{"c":"b","g":"b8","A":96,"E":3.97},{"c":"b","g":"b8","A":98,"E":2.73},
{"c":"b","g":"b9","A":76,"E":2.73},{"c":"b","g":"b9","A":78,"E":1.0},{"c":"b","g":"b9","A":80,"E":1.62},{"c":"b","g":"b9","A":82,"E":0.75},{"c":"b","g":"b9","A":84,"E":0.38},{"c":"b","g":"b9","A":86,"E":-0.24},{"c":"b","g":"b9","A":88,"E":-0.37},{"c":"b","g":"b9","A":90,"E":-0.37},{"c":"b","g":"b9","A":92,"E":-0.49},{"c":"b","g":"b9","A":94,"E":-1.11},{"c":"b","g":"b9","A":96,"E":-1.73},{"c":"b","g":"b9","A":98,"E":-2.47},
{"c":"b","g":"b10","A":100,"E":-3.21},{"c":"b","g":"b10","A":102,"E":-2.67},{"c":"b","g":"b10","A":104,"E":-2.1},{"c":"b","g":"b10","A":106,"E":-1.48},{"c":"b","g":"b10","A":108,"E":-0.98},{"c":"b","g":"b10","A":110,"E":-0.66},{"c":"b","g":"b10","A":112,"E":-0.54},{"c":"b","g":"b10","A":114,"E":-0.54},{"c":"b","g":"b10","A":116,"E":-0.74},{"c":"b","g":"b10","A":118,"E":-1.18},{"c":"b","g":"b10","A":120,"E":-1.68},{"c":"b","g":"b10","A":122,"E":-2.02},{"c":"b","g":"b10","A":124,"E":-2.35},{"c":"b","g":"b10","A":126,"E":-2.54},{"c":"b","g":"b10","A":128,"E":-2.54},{"c":"b","g":"b10","A":130,"E":-2.35},{"c":"b","g":"b10","A":132,"E":-1.98},{"c":"b","g":"b10","A":134,"E":-1.85},{"c":"b","g":"b10","A":136,"E":-0.74},
{"c":"b","g":"b11","A":112,"E":1.94},{"c":"b","g":"b11","A":114,"E":1.9},{"c":"b","g":"b11","A":116,"E":1.86},{"c":"b","g":"b11","A":118,"E":1.49},{"c":"b","g":"b11","A":120,"E":1.24},{"c":"b","g":"b11","A":122,"E":0.63},{"c":"b","g":"b11","A":124,"E":0.26},{"c":"b","g":"b11","A":126,"E":-0.74},{"c":"b","g":"b11","A":128,"E":-0.74},{"c":"b","g":"b11","A":130,"E":-0.61},{"c":"b","g":"b11","A":132,"E":-0.24},{"c":"b","g":"b11","A":134,"E":0.38},{"c":"b","g":"b11","A":136,"E":1.3},{"c":"b","g":"b11","A":138,"E":0.63},
{"c":"b","g":"b12","A":140,"E":2.23},{"c":"b","g":"b12","A":142,"E":2.43},{"c":"b","g":"b12","A":144,"E":2.53},{"c":"b","g":"b12","A":146,"E":3.22},{"c":"b","g":"b12","A":148,"E":3.22},{"c":"b","g":"b12","A":150,"E":2.85},
{"c":"b","g":"b13","A":140,"E":0.95},{"c":"b","g":"b13","A":142,"E":1.37},{"c":"b","g":"b13","A":144,"E":1.37},{"c":"b","g":"b13","A":146,"E":1.54},{"c":"b","g":"b13","A":148,"E":1.37},{"c":"b","g":"b13","A":150,"E":0.95},{"c":"b","g":"b13","A":152,"E":0.75},{"c":"b","g":"b13","A":154,"E":0.06},
{"c":"b","g":"b14","A":156,"E":1.74},{"c":"b","g":"b14","A":158,"E":0.8},
{"c":"b","g":"b15","A":178,"E":-1.35},{"c":"b","g":"b15","A":180,"E":-0.86},{"c":"b","g":"b15","A":182,"E":-0.44},{"c":"b","g":"b15","A":184,"E":-0.06},{"c":"b","g":"b15","A":186,"E":0.21},{"c":"b","g":"b15","A":188,"E":0.38},{"c":"b","g":"b15","A":190,"E":0.63},{"c":"b","g":"b15","A":192,"E":0.88},{"c":"b","g":"b15","A":194,"E":1.0},{"c":"b","g":"b15","A":196,"E":1.05},{"c":"b","g":"b15","A":198,"E":1.2},{"c":"b","g":"b15","A":200,"E":1.25},{"c":"b","g":"b15","A":202,"E":1.3},{"c":"b","g":"b15","A":204,"E":1.3},{"c":"b","g":"b15","A":206,"E":1.3},{"c":"b","g":"b15","A":208,"E":1.37},{"c":"b","g":"b15","A":210,"E":1.62},
{"c":"b","g":"b16","A":202,"E":5.26},{"c":"b","g":"b16","A":204,"E":4.3},{"c":"b","g":"b16","A":206,"E":3.72},{"c":"b","g":"b16","A":208,"E":3.47},{"c":"b","g":"b16","A":210,"E":3.97},{"c":"b","g":"b16","A":212,"E":4.46},{"c":"b","g":"b16","A":214,"E":3.77},{"c":"b","g":"b16","A":216,"E":4.27},{"c":"b","g":"b16","A":218,"E":3.35},{"c":"b","g":"b16","A":220,"E":4.91},
{"c":"b","g":"b17","A":202,"E":2.86},{"c":"b","g":"b17","A":204,"E":2.61},{"c":"b","g":"b17","A":206,"E":2.36},{"c":"b","g":"b17","A":208,"E":2.19},{"c":"b","g":"b17","A":210,"E":1.87},{"c":"b","g":"b17","A":212,"E":2.5},{"c":"b","g":"b17","A":214,"E":3.1},{"c":"b","g":"b17","A":216,"E":3.6},{"c":"b","g":"b17","A":218,"E":4.0},{"c":"b","g":"b17","A":220,"E":4.42},
{"c":"b","g":"b18","A":202,"E":4.5},{"c":"b","g":"b18","A":204,"E":4.1},{"c":"b","g":"b18","A":206,"E":4.2},{"c":"b","g":"b18","A":208,"E":5.46}
]
},
"vconcat": [
{
 "width": 888, "height": 323,
 "layer": [
  {"data": {"values": [{"z": 0}]}, "mark": {"type": "rule", "strokeDash": [7, 4], "strokeWidth": 1.5, "color": "black"}, "encoding": {"y": {"field": "z", "type": "quantitative", "scale": {"domain": [-12, 12], "nice": false}}}},
  {"data": {"name": "t"}, "mark": {"type": "line", "strokeWidth": 1.8}, "encoding": {
    "x": {"field": "A", "type": "quantitative", "scale": {"domain": [20, 228], "nice": false, "zero": false}, "axis": {"values": [50, 100, 150, 200], "title": null}},
    "y": {"field": "E", "type": "quantitative", "scale": {"domain": [-12, 12], "nice": false}, "axis": {"values": [-10, 0, 10], "title": "Δ E [MeV]"}},
    "color": {"field": "c", "type": "nominal", "scale": {"domain": ["k", "m", "r", "y", "g", "b"], "range": ["#000000", "#bf00bf", "#ff0000", "#bfbf00", "#008000", "#0000ff"]}, "legend": null},
    "detail": {"field": "g", "type": "nominal"}}},
  {"data": {"name": "t"}, "mark": {"type": "circle", "size": 85, "opacity": 1}, "encoding": {
    "x": {"field": "A", "type": "quantitative"},
    "y": {"field": "E", "type": "quantitative"},
    "color": {"field": "c", "type": "nominal", "legend": null}}}
 ]
},
{
 "width": 888, "height": 323,
 "layer": [
  {"data": {"values": [{"z": 0}]}, "mark": {"type": "rule", "strokeDash": [7, 4], "strokeWidth": 1.5, "color": "black"}, "encoding": {"y": {"field": "z", "type": "quantitative", "scale": {"domain": [-12, 12], "nice": false}}}},
  {"data": {"name": "b"}, "mark": {"type": "line", "strokeWidth": 1.8}, "encoding": {
    "x": {"field": "A", "type": "quantitative", "scale": {"domain": [20, 228], "nice": false, "zero": false}, "axis": {"values": [50, 100, 150, 200], "title": "Mass number A", "titleFontSize": 38, "titlePadding": 2}},
    "y": {"field": "E", "type": "quantitative", "scale": {"domain": [-12, 12], "nice": false}, "axis": {"values": [-10, 0, 10], "title": "Δ E [MeV]"}},
    "color": {"field": "c", "type": "nominal", "scale": {"domain": ["k", "m", "r", "y", "g", "b"], "range": ["#000000", "#bf00bf", "#ff0000", "#bfbf00", "#008000", "#0000ff"]}, "legend": null},
    "detail": {"field": "g", "type": "nominal"}}},
  {"data": {"name": "b"}, "mark": {"type": "circle", "size": 85, "opacity": 1}, "encoding": {
    "x": {"field": "A", "type": "quantitative"},
    "y": {"field": "E", "type": "quantitative"},
    "color": {"field": "c", "type": "nominal", "legend": null}}}
 ]
}
]
}
